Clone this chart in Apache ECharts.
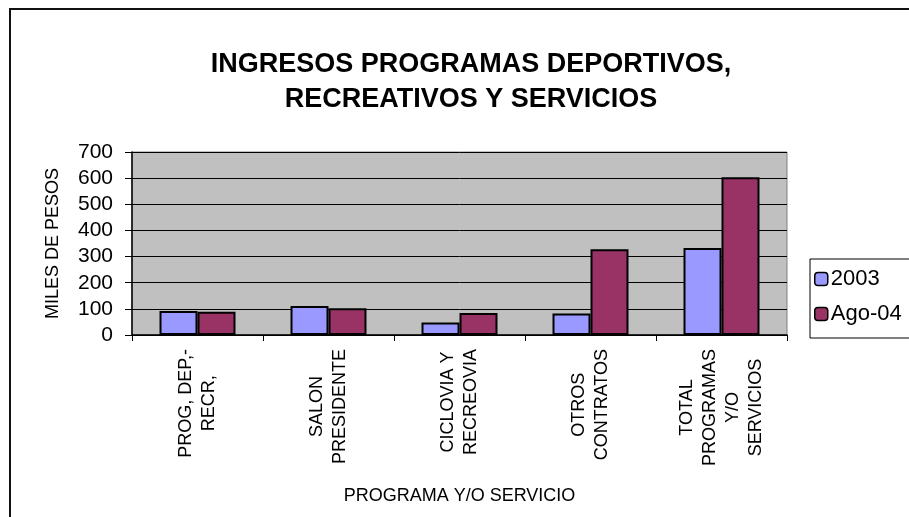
<!DOCTYPE html>
<html>
<head>
<meta charset="utf-8">
<script src="https://cdn.jsdelivr.net/npm/echarts@6/dist/echarts.min.js"></script>
<style>
html,body{margin:0;padding:0;background:#fff;}
#chart{width:909px;height:517px;}
</style>
</head>
<body>
<div id="chart"></div>
<script>
const categories = ['PROG, DEP,-\nRECR,', 'SALON\nPRESIDENTE', 'CICLOVIA Y\nRECREOVIA', 'OTROS\nCONTRATOS', 'TOTAL\nPROGRAMAS\nY/O\nSERVICIOS'];
const series2003 = [92, 111, 48, 82, 333];
const seriesAgo04 = [89, 102, 84, 328, 603];
const yTicks = [0, 100, 200, 300, 400, 500, 600, 700];

const FONT = "'Liberation Sans', Arial, sans-serif";
const chart = echarts.init(document.getElementById('chart'), null, {renderer: 'canvas'});
chart.setOption({
  animation: false,
  backgroundColor: '#ffffff',
  textStyle: {fontFamily: FONT, color: '#000'},
  title: {
    text: 'INGRESOS PROGRAMAS DEPORTIVOS,\nRECREATIVOS Y SERVICIOS',
    left: 466,
    top: 42,
    textAlign: 'center',
    textStyle: {fontFamily: FONT, fontSize: 27, fontWeight: 'bold', color: '#000', lineHeight: 35}
  },
  graphic: [{
    type: 'rect',
    shape: {x: 10, y: 9, width: 1200, height: 1000},
    style: {fill: 'none', stroke: '#111', lineWidth: 2},
    silent: true
  }],
  legend: {
    orient: 'vertical',
    left: 810,
    top: 259,
    itemWidth: 13,
    itemHeight: 13,
    itemGap: 13,
    padding: [9, 20, 13, 4],
    borderColor: '#000',
    borderWidth: 1,
    backgroundColor: '#fff',
    textStyle: {fontFamily: FONT, fontSize: 22, color: '#000', padding: [0, 0, 0, -2]},
    itemStyle: {borderColor: '#000', borderWidth: 1.5},
    data: ['2003', 'Ago-04']
  },
  grid: {
    left: 132, right: 122, top: 152, bottom: 182,
    show: true, backgroundColor: '#C0C0C0', borderColor: '#808080', borderWidth: 1
  },
  xAxis: {
    type: 'category',
    data: categories,
    name: 'PROGRAMA Y/O SERVICIO',
    nameLocation: 'middle',
    nameGap: 152,
    nameTextStyle: {fontFamily: FONT, fontSize: 18, color: '#000'},
    axisLine: {lineStyle: {color: '#000', width: 1.5}},
    axisTick: {show: true, inside: false, length: 6, lineStyle: {color: '#000'}},
    axisLabel: {
      rotate: 90,
      margin: 14,
      interval: 0,
      color: '#000',
      fontFamily: FONT,
      fontSize: 18,
      lineHeight: 23,
      formatter: function (v) { return v.split('\n').map(function (l) { return '{c|' + l + '}'; }).join('\n'); },
      rich: {c: {align: 'center', fontFamily: FONT, fontSize: 18, lineHeight: 23, color: '#000'}}
    }
  },
  yAxis: {
    type: 'value',
    min: 0, max: 700, interval: 100,
    name: 'MILES DE PESOS',
    nameLocation: 'middle',
    nameRotate: 90,
    nameGap: 70,
    nameTextStyle: {fontFamily: FONT, fontSize: 18, color: '#000'},
    axisLine: {show: true, lineStyle: {color: '#000', width: 1.5}},
    axisTick: {show: true, inside: false, length: 7, lineStyle: {color: '#000'}},
    axisLabel: {
      margin: 19, color: '#000', fontFamily: FONT, fontSize: 21,
      formatter: function (v) { return yTicks.indexOf(v) >= 0 ? String(v) : ''; }
    },
    splitLine: {show: true, lineStyle: {color: '#000', width: 1}}
  },
  series: [
    {
      name: '2003', type: 'bar', data: series2003,
      barGap: '0%', barCategoryGap: '42%',
      itemStyle: {color: '#9999FF', borderColor: '#000', borderWidth: 2}
    },
    {
      name: 'Ago-04', type: 'bar', data: seriesAgo04,
      barGap: '0%', barCategoryGap: '42%',
      itemStyle: {color: '#993366', borderColor: '#000', borderWidth: 2}
    }
  ]
});
</script>
</body>
</html>
